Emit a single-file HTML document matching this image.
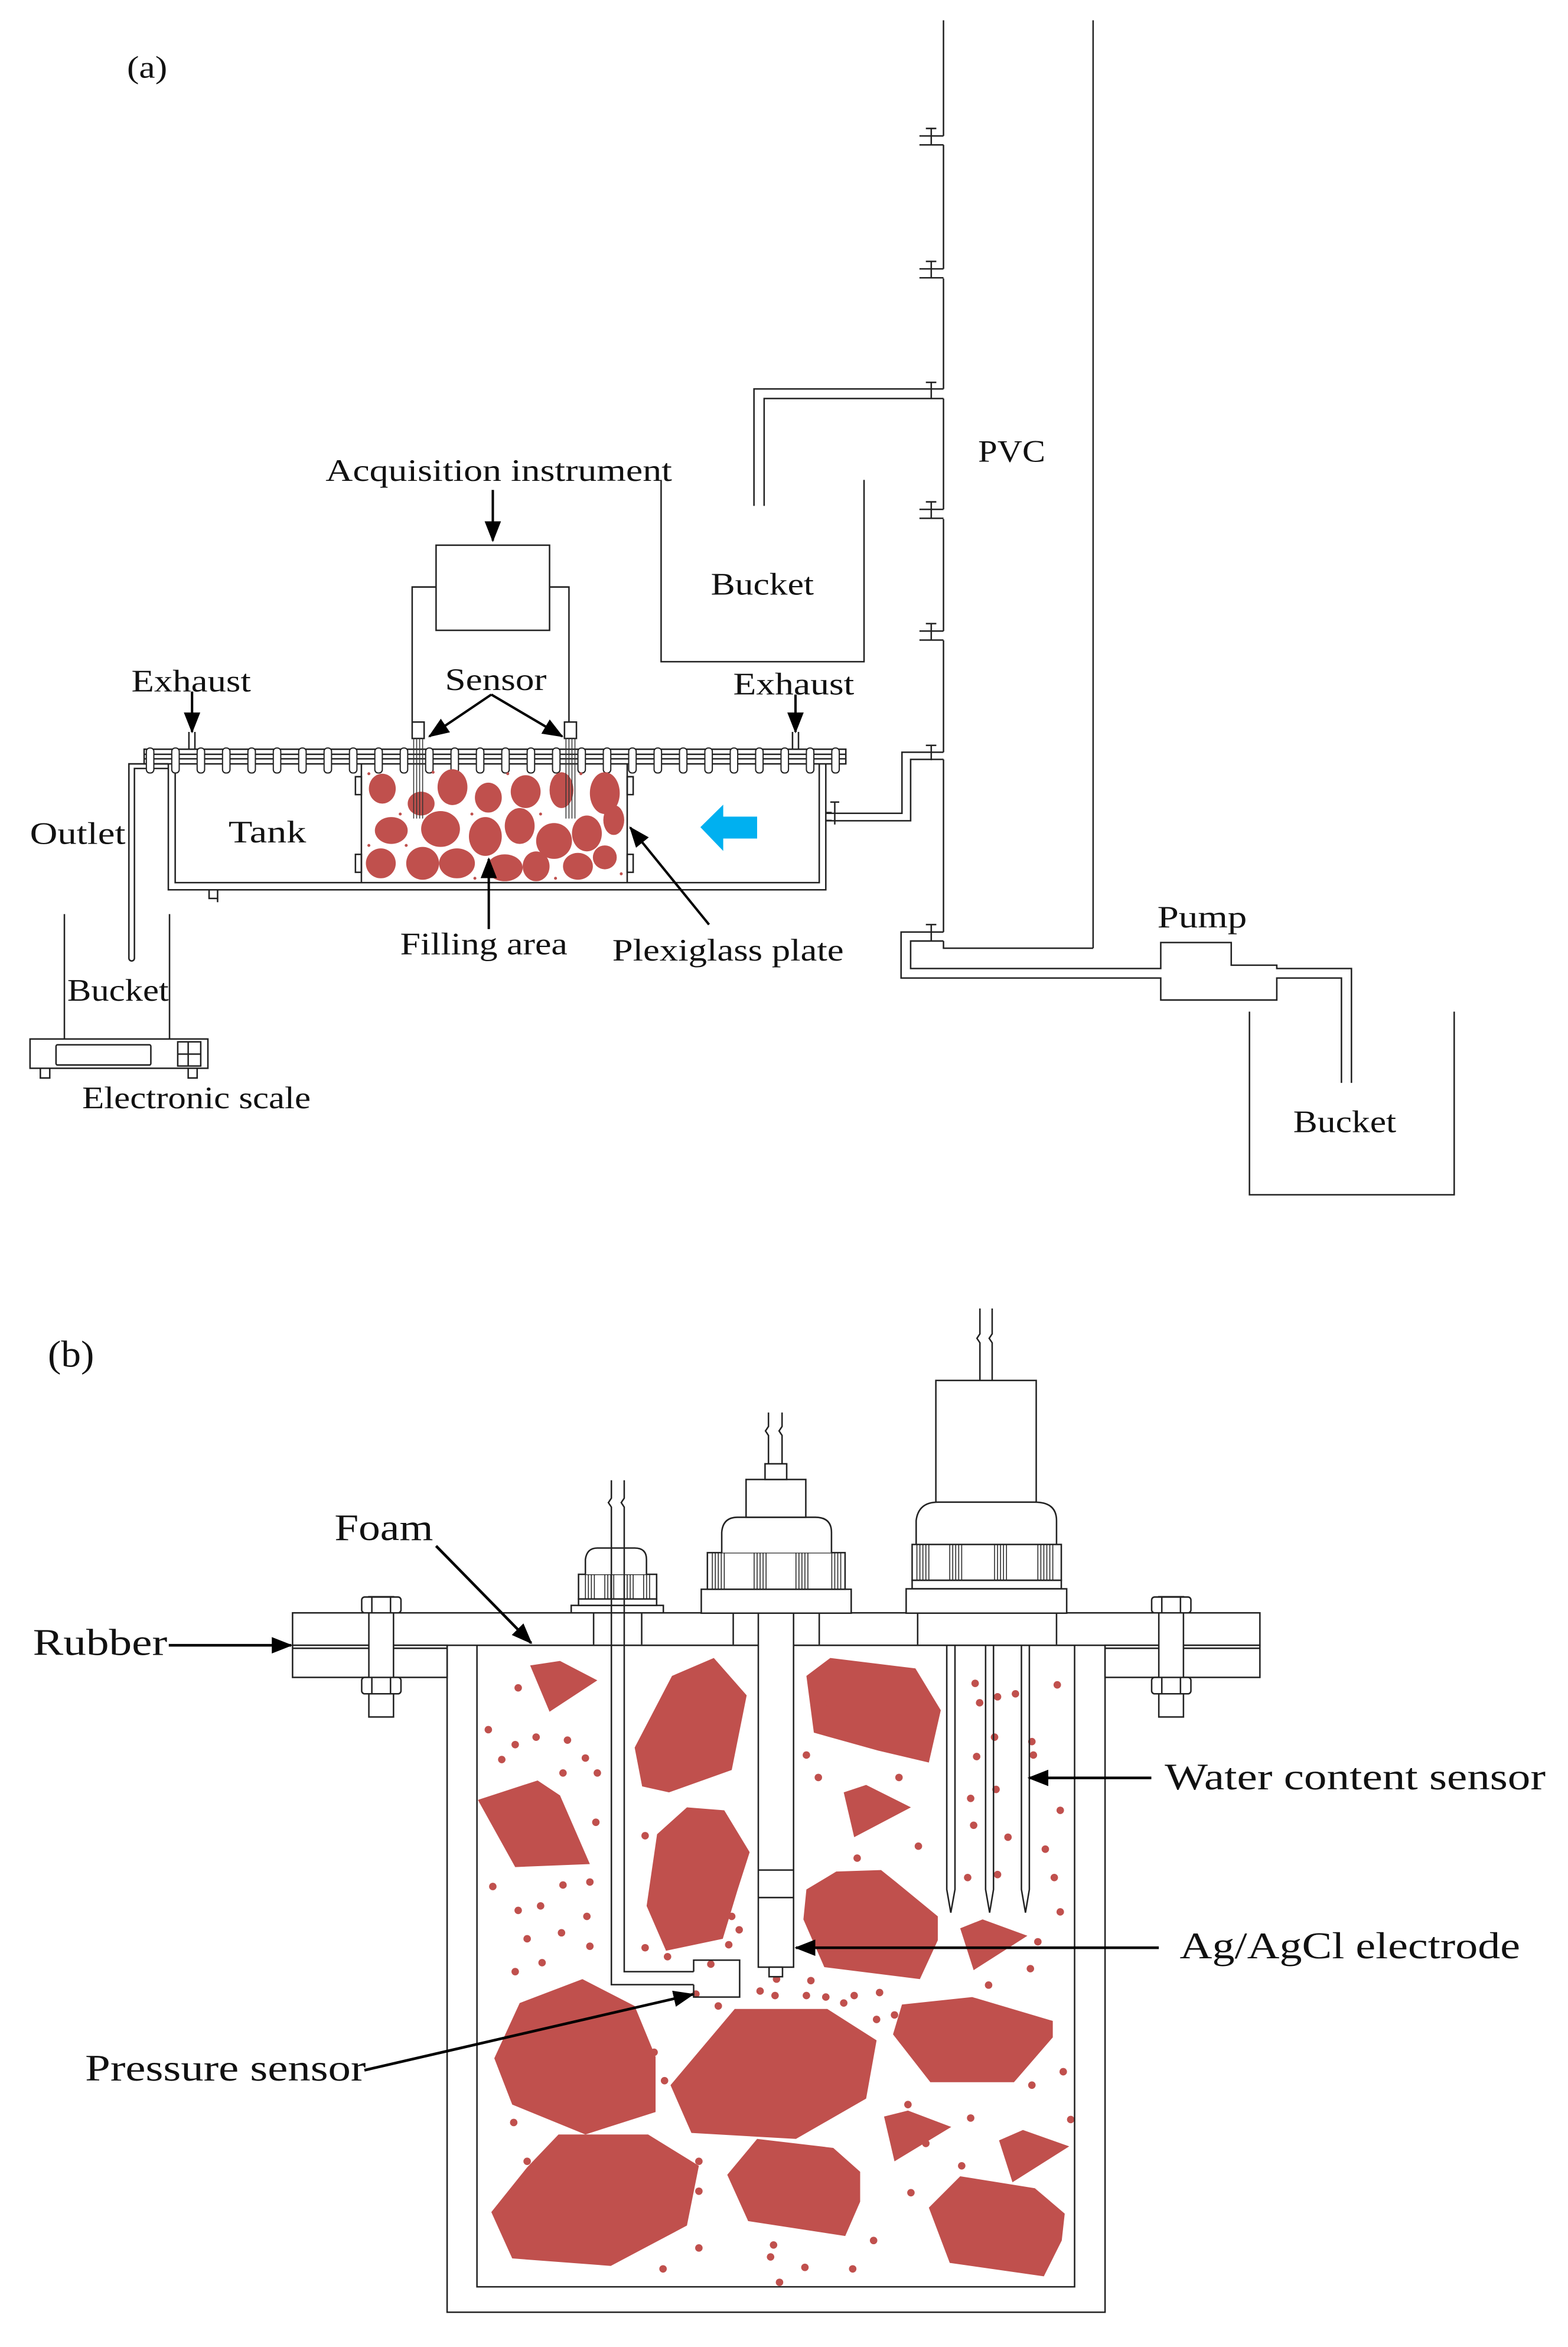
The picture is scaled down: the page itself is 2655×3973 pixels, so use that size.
<!DOCTYPE html>
<html><head><meta charset="utf-8"><style>
html,body{margin:0;padding:0;background:#fff}
svg{display:block}
text{font-family:"Liberation Serif",serif;fill:#111}
</style></head><body>
<svg width="2655" height="3973" viewBox="0 0 1050 1571.3" xmlns="http://www.w3.org/2000/svg">
<defs>
<marker id="ah" markerUnits="userSpaceOnUse" markerWidth="14" markerHeight="12" refX="13" refY="5.5" orient="auto"><polygon points="0,0 14,5.5 0,11" fill="#000"/></marker>
</defs>
<rect width="1050" height="1571.3" fill="#fff"/>
<g fill="none" stroke="#222" stroke-width="1">
<line x1="732" y1="13.6" x2="732" y2="634.8"/>
<path d="M631.8 13.6 V91 M631.8 97 V180 M631.8 186.5 V260.4 M631.8 266.8 V341 M631.8 347.5 V422.5 M631.8 428.7 V503.6 M631.8 508.4 V624 M631.8 630 V634.8 H732"/>
<g id="fl">
<path d="M615.7 91 H631.8 M615.7 97 H631.8 M623.6 86 V97 M620 86 H627"/>
</g>
<use href="#fl" transform="translate(0,89)"/>
<use href="#fl" transform="translate(0,250)"/>
<use href="#fl" transform="translate(0,331.5)"/>
<path d="M623.6 256 V267 M620 256 H627"/>
<path d="M623.6 499 V509 M620 499 H627 M623.6 619 V630 M620 619 H627"/>
<path d="M631.8 260.4 H504.9 V338.7 M631.8 266.8 H511.7 V338.7"/>
<path d="M442.7 321.3 V443 H578.6 V321.3"/>
<path d="M631.8 503.6 H604 V544.5 H553 M631.8 508.4 H609.8 V549.5 H553"/>
<path d="M559 537 V552 M556 537 H562"/>
<path d="M631.8 624 H603.4 V654.8 H777.3 V669.5 H855 V654.8 H898.3 V725 M631.8 630 H609.8 V648.4 H777.3 V631 H824.5 V646.2 H855 V648.4 H905 V725"/>
<path d="M836.7 677.3 V799.9 H973.8 V677.3"/>
<rect x="292" y="365" width="76" height="57"/>
<path d="M292 393 H276 V483 M368 393 H381 V483"/>
<rect x="96.5" y="501.6" width="469.9" height="9.8"/>
<line x1="96.5" y1="505" x2="566.4" y2="505"/>
<line x1="96.5" y1="508" x2="566.4" y2="508"/>
<path d="M112.7 511.4 V595.7 H553 V511.4 M117.3 511.4 V590.9 H548.6 V511.4"/>
<path d="M242 511.4 V590.9 M420 511.4 V590.9"/>
<path d="M238 520 h4 v12 h-4z M238 572 h4 v12 h-4z M420 520 h4 v12 h-4z M420 572 h4 v12 h-4z"/>
<path d="M140 595.7 V601.5 H146 M145.7 595.7 V604"/>
<path d="M553 544 H557 M553 549.3 H557"/>
<path d="M112.7 511.4 H86.3 V641.5 A1.85 1.85 0 0 0 90 641.5 V514.5 H112.7"/>
<path d="M43.1 612 V695.6 M113.5 612 V695.6"/>
<rect x="20.1" y="695.6" width="119.1" height="19.6"/>
<rect x="37.5" y="699.5" width="63.5" height="13.5" rx="1"/>
<rect x="119" y="697.5" width="15.4" height="16.2"/>
<path d="M126 697.5 V713.7 M119 705.7 H134.4"/>
<path d="M27 715.2 V721.7 H33.3 V715.2 M126 715.2 V721.7 H132 V715.2"/>
<path d="M126.5 490 V501.6 M130.5 490 V501.6 M530.7 490 V501.6 M534.7 490 V501.6"/>
<rect x="276" y="483.4" width="8" height="11"/>
<rect x="378" y="483.4" width="8" height="11"/>
</g>
<g fill="#fff" stroke="#222" stroke-width="0.8">
<rect x="98" y="500.8" width="5" height="16.7" rx="2.2"/><rect x="115" y="500.8" width="5" height="16.7" rx="2.2"/><rect x="132" y="500.8" width="5" height="16.7" rx="2.2"/><rect x="149" y="500.8" width="5" height="16.7" rx="2.2"/><rect x="166" y="500.8" width="5" height="16.7" rx="2.2"/><rect x="183" y="500.8" width="5" height="16.7" rx="2.2"/><rect x="200" y="500.8" width="5" height="16.7" rx="2.2"/><rect x="217" y="500.8" width="5" height="16.7" rx="2.2"/><rect x="234" y="500.8" width="5" height="16.7" rx="2.2"/><rect x="251" y="500.8" width="5" height="16.7" rx="2.2"/><rect x="268" y="500.8" width="5" height="16.7" rx="2.2"/><rect x="285" y="500.8" width="5" height="16.7" rx="2.2"/><rect x="302" y="500.8" width="5" height="16.7" rx="2.2"/><rect x="319" y="500.8" width="5" height="16.7" rx="2.2"/><rect x="336" y="500.8" width="5" height="16.7" rx="2.2"/><rect x="353" y="500.8" width="5" height="16.7" rx="2.2"/><rect x="370" y="500.8" width="5" height="16.7" rx="2.2"/><rect x="387" y="500.8" width="5" height="16.7" rx="2.2"/><rect x="404" y="500.8" width="5" height="16.7" rx="2.2"/><rect x="421" y="500.8" width="5" height="16.7" rx="2.2"/><rect x="438" y="500.8" width="5" height="16.7" rx="2.2"/><rect x="455" y="500.8" width="5" height="16.7" rx="2.2"/><rect x="472" y="500.8" width="5" height="16.7" rx="2.2"/><rect x="489" y="500.8" width="5" height="16.7" rx="2.2"/><rect x="506" y="500.8" width="5" height="16.7" rx="2.2"/><rect x="523" y="500.8" width="5" height="16.7" rx="2.2"/><rect x="540" y="500.8" width="5" height="16.7" rx="2.2"/><rect x="557" y="500.8" width="5" height="16.7" rx="2.2"/>
</g>
<g fill="#c0504d">
<ellipse cx="256" cy="528" rx="9" ry="10"/><ellipse cx="282" cy="538" rx="9" ry="8"/><ellipse cx="303" cy="527" rx="10" ry="12"/><ellipse cx="327" cy="534" rx="9" ry="10"/><ellipse cx="352" cy="530" rx="10" ry="11"/><ellipse cx="376" cy="529" rx="8" ry="12"/><ellipse cx="405" cy="531" rx="10" ry="14"/>
<ellipse cx="262" cy="556" rx="11" ry="9"/><ellipse cx="295" cy="555" rx="13" ry="12"/><ellipse cx="325" cy="560" rx="11" ry="13"/><ellipse cx="348" cy="553" rx="10" ry="12"/><ellipse cx="371" cy="563" rx="12" ry="12"/><ellipse cx="393" cy="558" rx="10" ry="12"/><ellipse cx="411" cy="549" rx="7" ry="10"/>
<ellipse cx="255" cy="578" rx="10" ry="10"/><ellipse cx="283" cy="578" rx="11" ry="11"/><ellipse cx="306" cy="578" rx="12" ry="10"/><ellipse cx="338" cy="581" rx="12" ry="9"/><ellipse cx="359" cy="580" rx="9" ry="10"/><ellipse cx="387" cy="580" rx="10" ry="9"/><ellipse cx="405" cy="574" rx="8" ry="8"/>
<circle cx="247" cy="518" r="1"/><circle cx="268" cy="545" r="1"/><circle cx="290" cy="517" r="1"/><circle cx="316" cy="545" r="1"/><circle cx="340" cy="518" r="1"/><circle cx="362" cy="545" r="1"/><circle cx="389" cy="518" r="1"/><circle cx="247" cy="566" r="1"/><circle cx="272" cy="566" r="1"/><circle cx="318" cy="588" r="1"/><circle cx="372" cy="588" r="1"/><circle cx="416" cy="585" r="1"/>
</g>
<g stroke="#333" stroke-width="0.6" fill="none">
<path d="M277 494 V548 M279 494 V548 M281 494 V548 M283 494 V548 M379 494 V548 M381 494 V548 M383 494 V548 M385 494 V548"/>
</g>
<polygon points="469,553.8 484.3,538.7 484.3,546.7 507,546.7 507,561.4 484.3,561.4 484.3,569.7" fill="#00b0f0"/>
<g stroke="#000" stroke-width="1.6" fill="none" marker-end="url(#ah)">
<line x1="330" y1="328" x2="330" y2="362"/>
<line x1="128.6" y1="463" x2="128.6" y2="490"/>
<line x1="532.7" y1="465" x2="532.7" y2="490"/>
<line x1="329" y1="465" x2="287.5" y2="493"/>
<line x1="329" y1="465" x2="376.5" y2="493"/>
<line x1="327.3" y1="622" x2="327.3" y2="575"/>
<line x1="474.8" y1="619" x2="422" y2="554"/>
</g>
<g font-size="21">
<text x="85" y="52" textLength="27" lengthAdjust="spacingAndGlyphs">(a)</text>
<text x="218" y="322" textLength="232" lengthAdjust="spacingAndGlyphs">Acquisition instrument</text>
<text x="655" y="309" textLength="45" lengthAdjust="spacingAndGlyphs">PVC</text>
<text x="476" y="398" textLength="69" lengthAdjust="spacingAndGlyphs">Bucket</text>
<text x="298" y="462" textLength="68" lengthAdjust="spacingAndGlyphs">Sensor</text>
<text x="88" y="463" textLength="80" lengthAdjust="spacingAndGlyphs">Exhaust</text>
<text x="491" y="465" textLength="81" lengthAdjust="spacingAndGlyphs">Exhaust</text>
<text x="20" y="565" textLength="64" lengthAdjust="spacingAndGlyphs">Outlet</text>
<text x="153" y="564" textLength="52" lengthAdjust="spacingAndGlyphs">Tank</text>
<text x="268" y="639" textLength="112" lengthAdjust="spacingAndGlyphs">Filling area</text>
<text x="410" y="643" textLength="155" lengthAdjust="spacingAndGlyphs">Plexiglass plate</text>
<text x="775" y="621" textLength="60" lengthAdjust="spacingAndGlyphs">Pump</text>
<text x="45" y="670" textLength="68" lengthAdjust="spacingAndGlyphs">Bucket</text>
<text x="866" y="758" textLength="69" lengthAdjust="spacingAndGlyphs">Bucket</text>
<text x="55" y="742" textLength="153" lengthAdjust="spacingAndGlyphs">Electronic scale</text>
</g>

<g fill="#c0504d">
<polygon points="355,1115 375,1112 400,1125 368,1146"/>
<polygon points="425,1170 450,1122 478,1110 500,1135 490,1185 448,1200 430,1196"/>
<polygon points="540,1122 556,1110 613,1117 630,1145 622,1180 588,1172 545,1160"/>
<polygon points="320,1205 360,1192 375,1202 395,1248 345,1250"/>
<polygon points="440,1228 460,1210 485,1212 502,1240 494,1265 484,1298 446,1306 433,1276"/>
<polygon points="565,1200 580,1195 610,1210 572,1230"/>
<polygon points="540,1265 560,1253 590,1252 600,1260 628,1283 628,1299 616,1325 552,1317 538,1285"/>
<polygon points="643,1291 658,1285 688,1296 652,1319"/>
<polygon points="348,1341 390,1325 425,1343 439,1377 439,1414 392,1429 343,1409 331,1378"/>
<polygon points="492,1345 554,1345 587,1366 580,1405 533,1432 463,1428 449,1396"/>
<polygon points="604,1342 651,1337 705,1353 705,1364 679,1394 623,1394 598,1362"/>
<polygon points="592,1417 608,1413 637,1424 599,1447"/>
<polygon points="669,1433 685,1426 716,1437 678,1461"/>
<polygon points="374,1429 434,1429 468,1450 460,1490 409,1517 343,1512 329,1481 353,1451"/>
<polygon points="507,1432 558,1438 576,1454 576,1474 566,1497 501,1487 487,1456"/>
<polygon points="643,1457 693,1465 713,1482 711,1500 699,1524 636,1515 622,1478"/>
</g>
<g fill="#c0504d">
<circle cx="347" cy="1130" r="2.5"/><circle cx="327" cy="1158" r="2.5"/><circle cx="359" cy="1163" r="2.5"/><circle cx="345" cy="1168" r="2.5"/><circle cx="380" cy="1165" r="2.5"/><circle cx="392" cy="1177" r="2.5"/><circle cx="336" cy="1178" r="2.5"/><circle cx="377" cy="1187" r="2.5"/><circle cx="400" cy="1187" r="2.5"/><circle cx="399" cy="1220" r="2.5"/>
<circle cx="330" cy="1263" r="2.5"/><circle cx="347" cy="1279" r="2.5"/><circle cx="362" cy="1276" r="2.5"/><circle cx="377" cy="1262" r="2.5"/><circle cx="353" cy="1298" r="2.5"/><circle cx="376" cy="1294" r="2.5"/><circle cx="395" cy="1303" r="2.5"/><circle cx="393" cy="1283" r="2.5"/><circle cx="345" cy="1320" r="2.5"/><circle cx="363" cy="1314" r="2.5"/><circle cx="395" cy="1260" r="2.5"/>
<circle cx="432" cy="1229" r="2.5"/><circle cx="432" cy="1304" r="2.5"/><circle cx="447" cy="1310" r="2.5"/><circle cx="476" cy="1315" r="2.5"/><circle cx="488" cy="1302" r="2.5"/><circle cx="495" cy="1292" r="2.5"/><circle cx="490" cy="1283" r="2.5"/><circle cx="466" cy="1335" r="2.5"/><circle cx="481" cy="1343" r="2.5"/><circle cx="520" cy="1325" r="2.5"/><circle cx="543" cy="1326" r="2.5"/><circle cx="553" cy="1337" r="2.5"/><circle cx="540" cy="1336" r="2.5"/><circle cx="572" cy="1336" r="2.5"/><circle cx="565" cy="1341" r="2.5"/><circle cx="587" cy="1352" r="2.5"/><circle cx="509" cy="1333" r="2.5"/><circle cx="519" cy="1336" r="2.5"/>
<circle cx="555" cy="1140" r="2.5"/><circle cx="540" cy="1175" r="2.5"/><circle cx="525" cy="1205" r="2.5"/><circle cx="548" cy="1190" r="2.5"/><circle cx="602" cy="1190" r="2.5"/><circle cx="615" cy="1236" r="2.5"/><circle cx="574" cy="1244" r="2.5"/><circle cx="525" cy="1250" r="2.5"/>
<circle cx="653" cy="1127" r="2.5"/><circle cx="656" cy="1140" r="2.5"/><circle cx="668" cy="1136" r="2.5"/><circle cx="666" cy="1163" r="2.5"/><circle cx="654" cy="1176" r="2.5"/><circle cx="680" cy="1134" r="2.5"/><circle cx="691" cy="1166" r="2.5"/><circle cx="708" cy="1128" r="2.5"/><circle cx="692" cy="1175" r="2.5"/><circle cx="710" cy="1212" r="2.5"/><circle cx="700" cy="1238" r="2.5"/><circle cx="710" cy="1280" r="2.5"/><circle cx="650" cy="1204" r="2.5"/><circle cx="652" cy="1222" r="2.5"/><circle cx="667" cy="1198" r="2.5"/><circle cx="675" cy="1230" r="2.5"/><circle cx="648" cy="1257" r="2.5"/><circle cx="668" cy="1255" r="2.5"/><circle cx="706" cy="1257" r="2.5"/>
<circle cx="695" cy="1300" r="2.5"/><circle cx="690" cy="1318" r="2.5"/><circle cx="662" cy="1329" r="2.5"/><circle cx="589" cy="1334" r="2.5"/><circle cx="599" cy="1349" r="2.5"/><circle cx="712" cy="1387" r="2.5"/><circle cx="691" cy="1396" r="2.5"/><circle cx="717" cy="1419" r="2.5"/><circle cx="608" cy="1409" r="2.5"/><circle cx="644" cy="1450" r="2.5"/><circle cx="610" cy="1468" r="2.5"/><circle cx="585" cy="1500" r="2.5"/><circle cx="571" cy="1519" r="2.5"/><circle cx="539" cy="1518" r="2.5"/><circle cx="518" cy="1503" r="2.5"/><circle cx="516" cy="1511" r="2.5"/><circle cx="444" cy="1519" r="2.5"/><circle cx="468" cy="1505" r="2.5"/><circle cx="522" cy="1528" r="2.5"/><circle cx="344" cy="1421" r="2.5"/><circle cx="353" cy="1447" r="2.5"/><circle cx="454" cy="1462" r="2.5"/><circle cx="468" cy="1447" r="2.5"/><circle cx="468" cy="1467" r="2.5"/><circle cx="438" cy="1374" r="2.5"/><circle cx="445" cy="1393" r="2.5"/><circle cx="631" cy="1381" r="2.5"/><circle cx="650" cy="1418" r="2.5"/><circle cx="620" cy="1435" r="2.5"/>
</g>
<g fill="none" stroke="#222" stroke-width="1">
<path d="M299.4 1101.5 V1548 H740 V1101.5"/>
<path d="M319.4 1101.5 V1531 H719.6 V1101.5 Z"/>
<!-- plate: upper across, lower only outside container -->
<rect x="195.9" y="1079.8" width="647.8" height="21.7" fill="#fff"/>
<rect x="195.9" y="1101.5" width="103.5" height="21.5" fill="#fff"/>
<rect x="740" y="1101.5" width="103.7" height="21.5" fill="#fff"/>
<line x1="195.9" y1="1103.5" x2="299.4" y2="1103.5"/>
<line x1="740" y1="1103.5" x2="843.7" y2="1103.5"/>
<g id="bolt" fill="#fff">
<rect x="247" y="1069" width="16.5" height="80.5"/>
<rect x="242.2" y="1069.2" width="26.3" height="10.6" rx="2"/>
<rect x="242.2" y="1123" width="26.3" height="11" rx="2"/>
<line x1="249" y1="1069" x2="249" y2="1079.8"/><line x1="261.5" y1="1069" x2="261.5" y2="1079.8"/>
<line x1="249" y1="1123" x2="249" y2="1134"/><line x1="261.5" y1="1123" x2="261.5" y2="1134"/>
</g>
<use href="#bolt" transform="translate(529,0)"/>
<path d="M397.5 1079.8 V1101 M429.7 1079.8 V1101 M491 1079.8 V1101 M548.6 1079.8 V1101 M614.5 1079.8 V1101 M707.5 1079.8 V1101"/>
<rect x="382.5" y="1074.8" width="61.7" height="5" fill="#fff"/>
<rect x="387.4" y="1070.5" width="52.3" height="4.3" fill="#fff"/>
<rect x="387.4" y="1054" width="52.3" height="16.5" fill="#fff"/>
<path d="M392 1054 V1044 Q393 1036.4 400 1036.4 H425 Q432.9 1036.4 432.9 1044 V1054" fill="#fff"/>
<path d="M409.4 991 V1003 l-2 3 l2 3 V1328.7 H464.5 M418 991 V1003 l-2 3 l2 3 V1320 H464.5"/>
<path d="M464.5 1320 V1312.3 H495.3 V1337 H464.5 V1328.7"/>
<rect x="469.6" y="1064" width="100.4" height="16" fill="#fff"/>
<rect x="473.7" y="1039.5" width="92.2" height="24.5" fill="#fff"/>
<path d="M483.3 1039.5 V1026 Q484 1015.8 494 1015.8 H546 Q556.8 1015.8 556.8 1026 V1039.5" fill="#fff"/>
<rect x="499.6" y="990.5" width="40" height="25.3" fill="#fff"/>
<rect x="512.3" y="980" width="14.5" height="10.5" fill="#fff"/>
<path d="M514.6 945.7 V955 l-2 3 l2 3 V980 M523.7 945.7 V955 l-2 3 l2 3 V980"/>
<rect x="507.8" y="1080" width="23.6" height="237" fill="#fff"/>
<path d="M507.8 1252 H531.4 M507.8 1270.4 H531.4"/>
<rect x="515" y="1317" width="9" height="6.4" fill="#fff"/>
<rect x="626.7" y="924.2" width="67.2" height="81.5" fill="#fff"/>
<path d="M613.5 1034 V1018 Q615 1005.7 628 1005.7 H693 Q707.5 1005.7 707.5 1018 V1034" fill="#fff"/>
<rect x="610.8" y="1034" width="99.9" height="24" fill="#fff"/>
<rect x="610.8" y="1058" width="99.9" height="5.7" fill="#fff"/>
<rect x="606.8" y="1063.7" width="107.5" height="16.3" fill="#fff"/>
<path d="M656.2 876 V893 l-2 3 l2 3 V924.2 M664.4 876 V893 l-2 3 l2 3 V924.2"/>
<path d="M634 1101.5 V1265 L636.7 1280.5 L639.5 1265 V1101.5 M660 1101.5 V1265 L662.7 1280.5 L665.3 1265 V1101.5 M684 1101.5 V1265 L686.7 1280.5 L689.3 1265 V1101.5"/>
</g>
<g stroke="#222" stroke-width="0.6">
<path d="M392 1054 V1070.5 M394 1054 V1070.5 M396 1054 V1070.5 M398 1054 V1070.5 M405 1054 V1070.5 M407 1054 V1070.5 M409 1054 V1070.5 M411 1054 V1070.5 M420 1054 V1070.5 M422 1054 V1070.5 M424 1054 V1070.5 M431 1054 V1070.5 M433 1054 V1070.5 M435 1054 V1070.5"/>
<path d="M477 1039.5 V1064 M479 1039.5 V1064 M481 1039.5 V1064 M483 1039.5 V1064 M485 1039.5 V1064 M505 1039.5 V1064 M507 1039.5 V1064 M509 1039.5 V1064 M511 1039.5 V1064 M513 1039.5 V1064 M533 1039.5 V1064 M535 1039.5 V1064 M537 1039.5 V1064 M539 1039.5 V1064 M541 1039.5 V1064 M557 1039.5 V1064 M559 1039.5 V1064 M561 1039.5 V1064 M563 1039.5 V1064"/>
<path d="M614 1034 V1058 M616 1034 V1058 M618 1034 V1058 M620 1034 V1058 M622 1034 V1058 M636 1034 V1058 M638 1034 V1058 M640 1034 V1058 M642 1034 V1058 M644 1034 V1058 M666 1034 V1058 M668 1034 V1058 M670 1034 V1058 M672 1034 V1058 M674 1034 V1058 M695 1034 V1058 M697 1034 V1058 M699 1034 V1058 M701 1034 V1058 M703 1034 V1058 M705 1034 V1058"/>
</g>
<g stroke="#000" stroke-width="1.8" fill="none" marker-end="url(#ah)">
<line x1="292" y1="1035" x2="355.7" y2="1100"/>
<line x1="113" y1="1101.5" x2="195" y2="1101.5"/>
<line x1="771" y1="1190.3" x2="689" y2="1190.3"/>
<line x1="776" y1="1304" x2="533" y2="1304"/>
<line x1="244" y1="1386" x2="464" y2="1335.2"/>
</g>
<g font-size="25">
<text x="32" y="915" textLength="31" lengthAdjust="spacingAndGlyphs">(b)</text>
<text x="224" y="1031" textLength="66" lengthAdjust="spacingAndGlyphs">Foam</text>
<text x="22" y="1108" textLength="90" lengthAdjust="spacingAndGlyphs">Rubber</text>
<text x="780" y="1198" textLength="255" lengthAdjust="spacingAndGlyphs">Water content sensor</text>
<text x="790" y="1311" textLength="228" lengthAdjust="spacingAndGlyphs">Ag/AgCl electrode</text>
<text x="57" y="1393" textLength="188" lengthAdjust="spacingAndGlyphs">Pressure sensor</text>
</g>
</svg>
</body></html>
